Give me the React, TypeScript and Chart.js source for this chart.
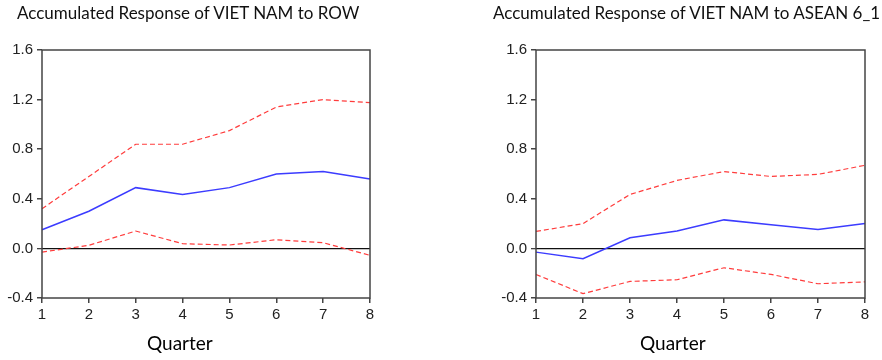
import React, { useEffect, useRef } from "react";
import { Chart, registerables } from "chart.js";

Chart.register(...registerables);

const quarters = ["1", "2", "3", "4", "5", "6", "7", "8"];
const yTicks = [-0.4, 0.0, 0.4, 0.8, 1.2, 1.6];

const rowResponse = [0.15, 0.30, 0.49, 0.435, 0.49, 0.60, 0.62, 0.56];
const rowUpper = [0.32, 0.58, 0.84, 0.84, 0.95, 1.14, 1.20, 1.175];
const rowLower = [-0.03, 0.025, 0.14, 0.038, 0.027, 0.07, 0.046, -0.056];

const aseanResponse = [-0.03, -0.083, 0.086, 0.14, 0.23, 0.19, 0.153, 0.20];
const aseanUpper = [0.137, 0.20, 0.435, 0.548, 0.62, 0.58, 0.597, 0.67];
const aseanLower = [-0.21, -0.365, -0.266, -0.253, -0.156, -0.21, -0.285, -0.27];

const W = 441;
const H = 360;

const framePlugin = {
  id: "frame",
  afterDatasetsDraw(chart: any) {
    const { ctx, chartArea } = chart;
    ctx.save();
    ctx.strokeStyle = "#444";
    ctx.lineWidth = 1.5;
    ctx.strokeRect(chartArea.left, chartArea.top, chartArea.right - chartArea.left, chartArea.bottom - chartArea.top);
    ctx.restore();
  },
};

type PanelProps = {
  title: string;
  response: number[];
  upper: number[];
  lower: number[];
  padLeft: number;
  axisWidth: number;
  padRight: number;
  titleLeft: number;
  xLabelLeft: number;
  offsetX: number;
};

function Panel(p: PanelProps) {
  const ref = useRef<HTMLCanvasElement | null>(null);
  useEffect(() => {
    if (!ref.current) return;
    const red = "rgb(255,60,60)";
    const chart = new Chart(ref.current, {
      type: "line",
      data: {
        labels: quarters,
        datasets: [
          { data: p.upper, borderColor: red, borderWidth: 1.2, borderDash: [5, 3], pointRadius: 0, tension: 0, fill: false },
          { data: p.lower, borderColor: red, borderWidth: 1.2, borderDash: [5, 3], pointRadius: 0, tension: 0, fill: false },
          { data: p.response, borderColor: "rgb(60,60,255)", borderWidth: 1.5, pointRadius: 0, tension: 0, fill: false },
        ],
      },
      options: {
        animation: false,
        responsive: false,
        events: [],
        layout: { padding: { left: p.padLeft, right: p.padRight, top: 50, bottom: 32 } },
        plugins: { legend: { display: false }, tooltip: { enabled: false }, title: { display: false } },
        scales: {
          x: {
            type: "category",
            offset: false,
            border: { display: false },
            grid: { drawOnChartArea: false, drawTicks: true, tickLength: 5, tickColor: "#444", lineWidth: 1.5 },
            ticks: { color: "#222", padding: 3, maxRotation: 0, autoSkip: false, font: { family: "'Liberation Sans', Arial, sans-serif", size: 15 } },
            afterFit: (s: any) => { s.height = 30; },
          },
          y: {
            type: "linear",
            min: yTicks[0],
            max: yTicks[yTicks.length - 1],
            border: { display: false },
            afterBuildTicks: (s: any) => { s.ticks = yTicks.map((v) => ({ value: v })); },
            grid: {
              drawTicks: true,
              tickLength: 5,
              tickColor: "#444",
              lineWidth: (c: any) => (c.tick && Math.abs(c.tick.value) < 1e-9 ? 1.3 : 1.5),
              color: (c: any) => (c.tick && Math.abs(c.tick.value) < 1e-9 ? "#111" : "rgba(0,0,0,0)"),
            },
            ticks: {
              color: "#222",
              padding: 4,
              font: { family: "'Liberation Sans', Arial, sans-serif", size: 15 },
              callback: (v: any) => Number(v).toFixed(1),
            },
            afterFit: (s: any) => { s.width = p.axisWidth; },
          },
        },
      },
      plugins: [framePlugin],
    });
    return () => chart.destroy();
  }, []);
  return (
    <div style={{ position: "absolute", left: p.offsetX, top: 0, width: W, height: H }}>
      <canvas ref={ref} width={W} height={H} style={{ position: "absolute", left: 0, top: 0 }} />
      <div style={{ position: "absolute", left: p.titleLeft, top: 2, fontFamily: "Lato, sans-serif", fontSize: 17, color: "#111", whiteSpace: "nowrap" }}>{p.title}</div>
      <div style={{ position: "absolute", left: p.xLabelLeft, top: 331, fontFamily: "Lato, sans-serif", fontSize: 19, color: "#000", whiteSpace: "nowrap" }}>Quarter</div>
    </div>
  );
}

export default function App() {
  return (
    <div style={{ position: "fixed", left: 0, top: 0, width: 882, height: 360, background: "#fff" }}>
      <Panel title="Accumulated Response of VIET NAM to ROW" response={rowResponse} upper={rowUpper} lower={rowLower}
        padLeft={0} axisWidth={42} padRight={71} titleLeft={17} xLabelLeft={147} offsetX={0} />
      <Panel title="Accumulated Response of VIET NAM to ASEAN 6_1" response={aseanResponse} upper={aseanUpper} lower={aseanLower}
        padLeft={0} axisWidth={95} padRight={17} titleLeft={52} xLabelLeft={199} offsetX={441} />
    </div>
  );
}
